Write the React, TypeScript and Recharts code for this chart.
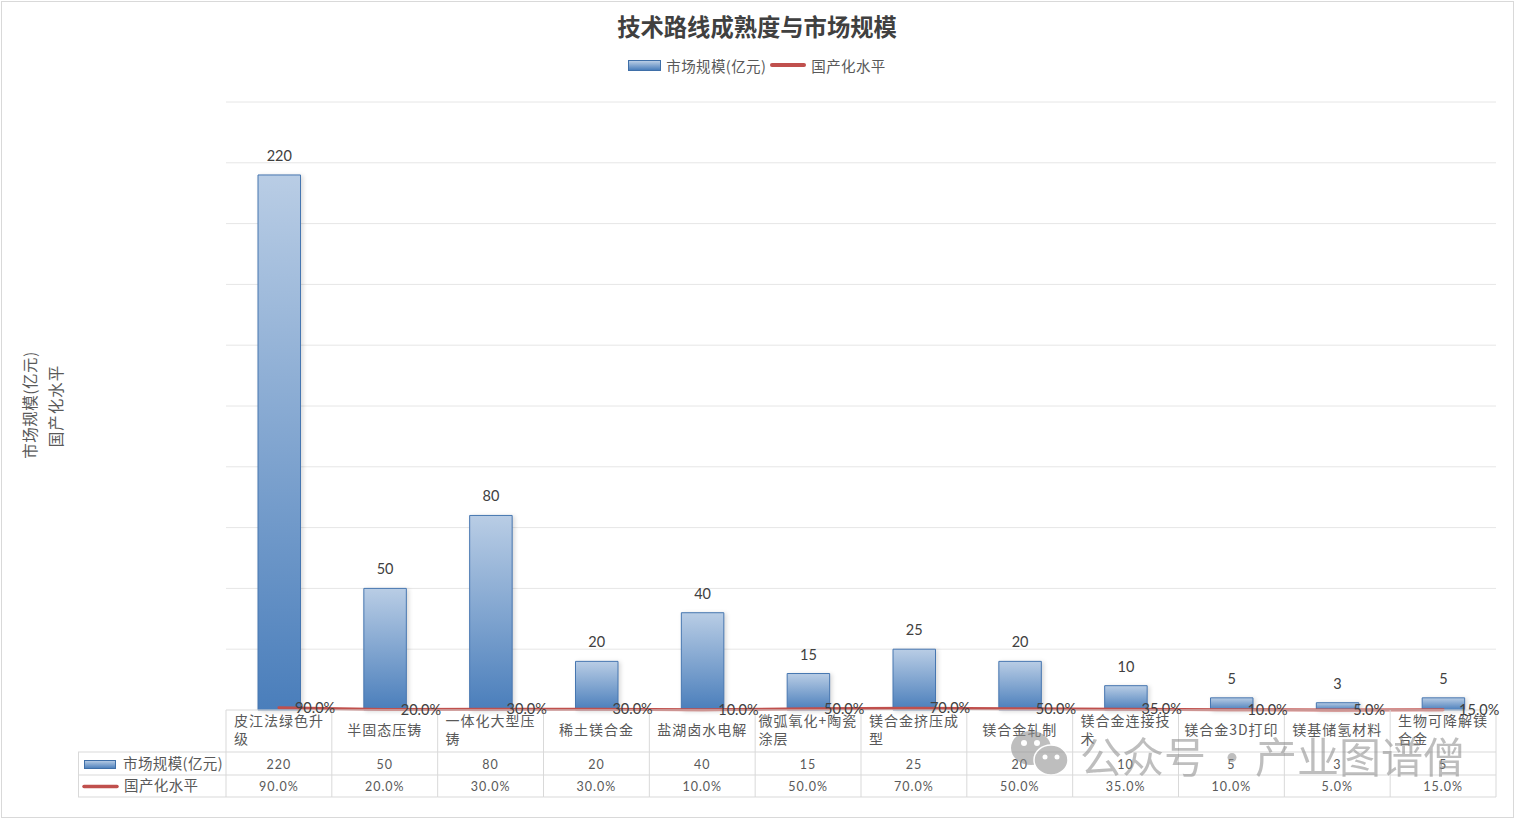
import { Bar, ComposedChart, LabelList, Legend, Line, ReferenceLine, XAxis, YAxis } from "recharts";

const categories = [
  "皮江法绿色升\n级",
  "半固态压铸",
  "一体化大型压\n铸",
  "稀土镁合金",
  "盐湖卤水电解",
  "微弧氧化+陶瓷\n涂层",
  "镁合金挤压成\n型",
  "镁合金轧制",
  "镁合金连接技\n术",
  "镁合金3D打印",
  "镁基储氢材料",
  "生物可降解镁\n合金",
];
const marketSize = [220, 50, 80, 20, 40, 15, 25, 20, 10, 5, 3, 5];
const localRate = [0.9, 0.2, 0.3, 0.3, 0.1, 0.5, 0.7, 0.5, 0.35, 0.1, 0.05, 0.15];
const yTicks = [25, 50, 75, 100, 125, 150, 175, 200, 225, 250];

const BAR_NAME = "市场规模(亿元)";
const LINE_NAME = "国产化水平";

const data = categories.map((name, i) => ({ name, size: marketSize[i], rate: localRate[i] }));

const CJK = "'Noto Sans CJK SC', sans-serif";
const GRID = "#d9d9d9";
const TEXT = "#595959";
const pct = (v: number) => (v * 100).toFixed(1) + "%";

const PLOT_W = 1270;
const band = PLOT_W / categories.length;

// rough pixel width of a label line, used to centre the wrapped block in its cell
const lineWidth = (s: string) =>
  Array.from(s).reduce((w, c) => w + (c.charCodeAt(0) > 255 ? 15 : 9), 0);

function TableTick(props: any) {
  const { x, y, payload } = props;
  const i = payload.index;
  const left = x - band / 2;
  const right = x + band / 2;
  const lines: string[] = String(payload.value).split("\n");
  const blockW = Math.max(...lines.map(lineWidth));
  return (
    <g>
      {i === 0 && (
        <g>
          <line x1={78} x2={left} y1={y + 42} y2={y + 42} stroke={GRID} />
          <line x1={78} x2={left} y1={y + 65} y2={y + 65} stroke={GRID} />
          <line x1={78} x2={left} y1={y + 87} y2={y + 87} stroke={GRID} />
          <line x1={78.5} x2={78.5} y1={y + 42} y2={y + 87} stroke={GRID} />
          <line x1={left} x2={left} y1={y} y2={y + 87} stroke={GRID} />
          <rect x={84.5} y={y + 50.5} width={31} height={8} fill="url(#barFill)" stroke="#3f6fa8" />
          <text x={123} y={y + 59} fontFamily={CJK} fontSize={14.5} letterSpacing={0.4} fill={TEXT}>{BAR_NAME}</text>
          <line x1={84} x2={117} y1={y + 76.5} y2={y + 76.5} stroke="#c0504d" strokeWidth={3.5} strokeLinecap="round" />
          <text x={124} y={y + 81} fontFamily={CJK} fontSize={14.5} letterSpacing={0.4} fill={TEXT}>{LINE_NAME}</text>
        </g>
      )}
      <line x1={right} x2={right} y1={y} y2={y + 87} stroke={GRID} />
      <line x1={left} x2={right} y1={y + 42} y2={y + 42} stroke={GRID} />
      <line x1={left} x2={right} y1={y + 65} y2={y + 65} stroke={GRID} />
      <line x1={left} x2={right} y1={y + 87} y2={y + 87} stroke={GRID} />
      {lines.length === 1 ? (
        <text x={x} y={y + 25} textAnchor="middle" fontFamily={CJK} fontSize={14} letterSpacing={1} fill={TEXT}>
          {lines[0]}
        </text>
      ) : (
        lines.map((t, k) => (
          <text key={k} x={x - blockW / 2} y={y + 16 + k * 18} fontFamily={CJK} fontSize={14} letterSpacing={1} fill={TEXT}>
            {t}
          </text>
        ))
      )}
      <text x={x} y={y + 59} textAnchor="middle" fontFamily="Lato" fontSize={12.5} letterSpacing={1} fill={TEXT}>
        {marketSize[i]}
      </text>
      <text x={x} y={y + 81} textAnchor="middle" fontFamily="Lato" fontSize={12.5} letterSpacing={1} fill={TEXT}>
        {pct(localRate[i])}
      </text>
    </g>
  );
}

function TopLegend({ payload }: any) {
  return (
    <div style={{ display: "flex", justifyContent: "center", alignItems: "center", height: 24, fontFamily: CJK, fontSize: 14.5, letterSpacing: 0.4, color: TEXT }}>
      {(payload || []).map((p: any) =>
        p.dataKey === "rate" ? (
          <span key={p.value} style={{ display: "flex", alignItems: "center" }}>
            <span style={{ width: 36, height: 3.5, background: "#c0504d", borderRadius: 2, marginLeft: 4, marginRight: 5 }} />
            {p.value}
          </span>
        ) : (
          <span key={p.value} style={{ display: "flex", alignItems: "center" }}>
            <span style={{ width: 33, height: 11, marginRight: 5, border: "1px solid #3f6fa8", boxSizing: "border-box", background: "linear-gradient(#b9cde5,#4a7ebb)" }} />
            {p.value}
          </span>
        )
      )}
    </div>
  );
}

function Watermark() {
  const word = { position: "absolute" as const, top: 0, whiteSpace: "nowrap" as const, fontFamily: CJK, fontSize: 42, lineHeight: "56px", color: "#8a8a8a" };
  return (
    <div style={{ position: "absolute", left: 1010, top: 727, width: 470, height: 56, pointerEvents: "none", opacity: 0.55 }}>
      <svg width={72} height={56} style={{ position: "absolute", left: 0, top: 0 }}>
        <ellipse cx={21} cy={21} rx={20} ry={17} fill="#8a8a8a" />
        <ellipse cx={41} cy={33} rx={17} ry={15} fill="#8a8a8a" stroke="#fff" strokeWidth={1.5} />
        <circle cx={14} cy={16} r={3} fill="#fff" />
        <circle cx={27} cy={16} r={3} fill="#fff" />
        <circle cx={35} cy={30} r={2.5} fill="#fff" />
        <circle cx={47} cy={30} r={2.5} fill="#fff" />
      </svg>
      <div style={{ ...word, left: 70 }}>公众号</div>
      <div style={{ ...word, left: 201 }}>·</div>
      <div style={{ ...word, left: 245 }}>产业图谱僧</div>
    </div>
  );
}

export default function App() {
  return (
    <div style={{ position: "absolute", left: 0, top: 0, width: 1514, height: 818, background: "#fff" }}>
      <div style={{ position: "absolute", left: 1, top: 1, width: 1511, height: 815, border: "1px solid #d9d9d9" }} />
      <div style={{ position: "absolute", left: 0, width: 1514, top: 11, textAlign: "center", fontFamily: CJK, fontWeight: 700, fontSize: 23.3, lineHeight: "30px", color: "#404040" }}>
        技术路线成熟度与市场规模
      </div>
      <ComposedChart
        width={1514}
        height={818}
        data={data}
        margin={{ top: 78, right: 18, bottom: 0, left: 226 }}
        style={{ position: "absolute", left: 0, top: 0 }}
      >
        <defs>
          <linearGradient id="barFill" x1="0" y1="0" x2="0" y2="1">
            <stop offset="0%" stopColor="#b9cde5" />
            <stop offset="100%" stopColor="#4a7ebb" />
          </linearGradient>
        </defs>
        <Legend verticalAlign="top" height={24} itemSorter={null} content={<TopLegend />} wrapperStyle={{ top: 53, left: 0, width: 1514 }} />
        <XAxis dataKey="name" interval={0} height={108} tick={<TableTick />} tickLine={false} tickSize={0} tickMargin={0} axisLine={{ stroke: GRID }} />
        <YAxis width={0} domain={[0, 250]} ticks={yTicks} tick={false} axisLine={false} tickLine={false} />
        {yTicks.map((t) => (
          <ReferenceLine key={t} y={t} stroke="#e6e6e6" zIndex={-50} />
        ))}
        <Bar
          dataKey="size"
          name={BAR_NAME}
          barSize={42.5}
          fill="url(#barFill)"
          stroke="#4676b0"
          isAnimationActive={false}
          style={{ filter: "drop-shadow(2px 1px 2px rgba(0,0,0,0.15))" }}
        >
          <LabelList dataKey="size" position="top" offset={14} fontFamily="Lato" fontSize={14.5} fill="#404040" />
        </Bar>
        <Line
          dataKey="rate"
          name={LINE_NAME}
          stroke="#c0504d"
          strokeWidth={3}
          strokeLinecap="round"
          dot={false}
          isAnimationActive={false}
        >
          <LabelList dataKey="rate" position="right" offset={16} formatter={(v: any) => pct(Number(v))} fontFamily="Lato" fontSize={14.5} fill="#404040" />
        </Line>
        <text x={29} y={405} transform="rotate(-90 29 405)" textAnchor="middle" dominantBaseline="central" fontFamily={CJK} fontSize={15.5} letterSpacing={0.5} fill={TEXT}>
          {BAR_NAME}
        </text>
        <text x={55} y={406} transform="rotate(-90 55 406)" textAnchor="middle" dominantBaseline="central" fontFamily={CJK} fontSize={15.5} letterSpacing={1} fill={TEXT}>
          {LINE_NAME}
        </text>
      </ComposedChart>
      <Watermark />
    </div>
  );
}
